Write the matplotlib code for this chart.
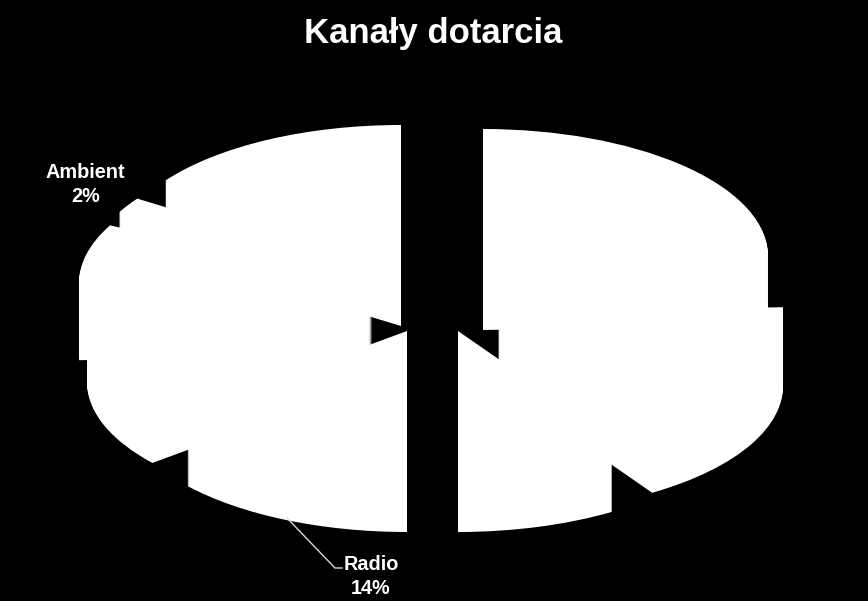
import matplotlib
matplotlib.use('Agg')
import matplotlib.pyplot as plt

W, H = 868, 601

# shares clockwise from 12 o'clock, only Radio and Ambient are labelled in the picture
shares = [24.4, 16.5, 9.1, 14.0, 10.6, 7.9, 2.0, 15.5]
labels = ['', '', '', 'Radio', '', '', 'Ambient', '']

# exploded slices: where each slice's apex sits, in pixels
centers_x = [483, 498, 458, 407, 372, 364, 373, 401]
centers_y = [256, 312, 331, 331, 308, 283, 270, 252]

RX = 285       # pie radius, px
RY = 127       # squashed radius, px
DEPTH = 74     # extrusion of the 3d pie, px
y_scale = RY / RX

plt.rcParams['font.family'] = ['Liberation Sans', 'DejaVu Sans']

fig = plt.figure(figsize=(W / 100, H / 100), dpi=100, facecolor='black')
ax = fig.add_axes([0, 0, 1, 1])

angle = 90
for share, cx, cy in zip(shares, centers_x, centers_y):
    for d in range(DEPTH + 1):
        # y axis runs upwards and is stretched so the circle comes out as an ellipse
        ax.pie([share / 100], normalize=False, startangle=angle, counterclock=False,
               radius=RX, center=(cx, (H - cy - d) / y_scale), colors=['white'],
               wedgeprops={'linewidth': 0})
    angle -= share * 3.6

ax.set_aspect('auto')
ax.set_xlim(0, W)
ax.set_ylim(0, H / y_scale)
ax.axis('off')

# overlay in pixel coordinates for the texts
top = fig.add_axes([0, 0, 1, 1], facecolor='none')
top.set_xlim(0, W)
top.set_ylim(H, 0)
top.axis('off')

top.text(433.5, 33, 'Kanały dotarcia', color='white', fontsize=25, fontweight='bold',
         ha='center', va='center')
top.text(85.5, 172, 'Ambient', color='white', fontsize=14.3, fontweight='bold', ha='center', va='center')
top.text(85.5, 196, '2%', color='white', fontsize=14.3, fontweight='bold', ha='center', va='center')
top.text(371, 565, 'Radio', color='white', fontsize=14.3, fontweight='bold', ha='center', va='center')
top.text(371, 589, '14%', color='white', fontsize=14.3, fontweight='bold', ha='center', va='center')
top.plot([287, 335, 342], [518, 568, 568], color='#d9d9d9', lw=1)

fig.savefig('out.png', dpi=100, facecolor='black')
